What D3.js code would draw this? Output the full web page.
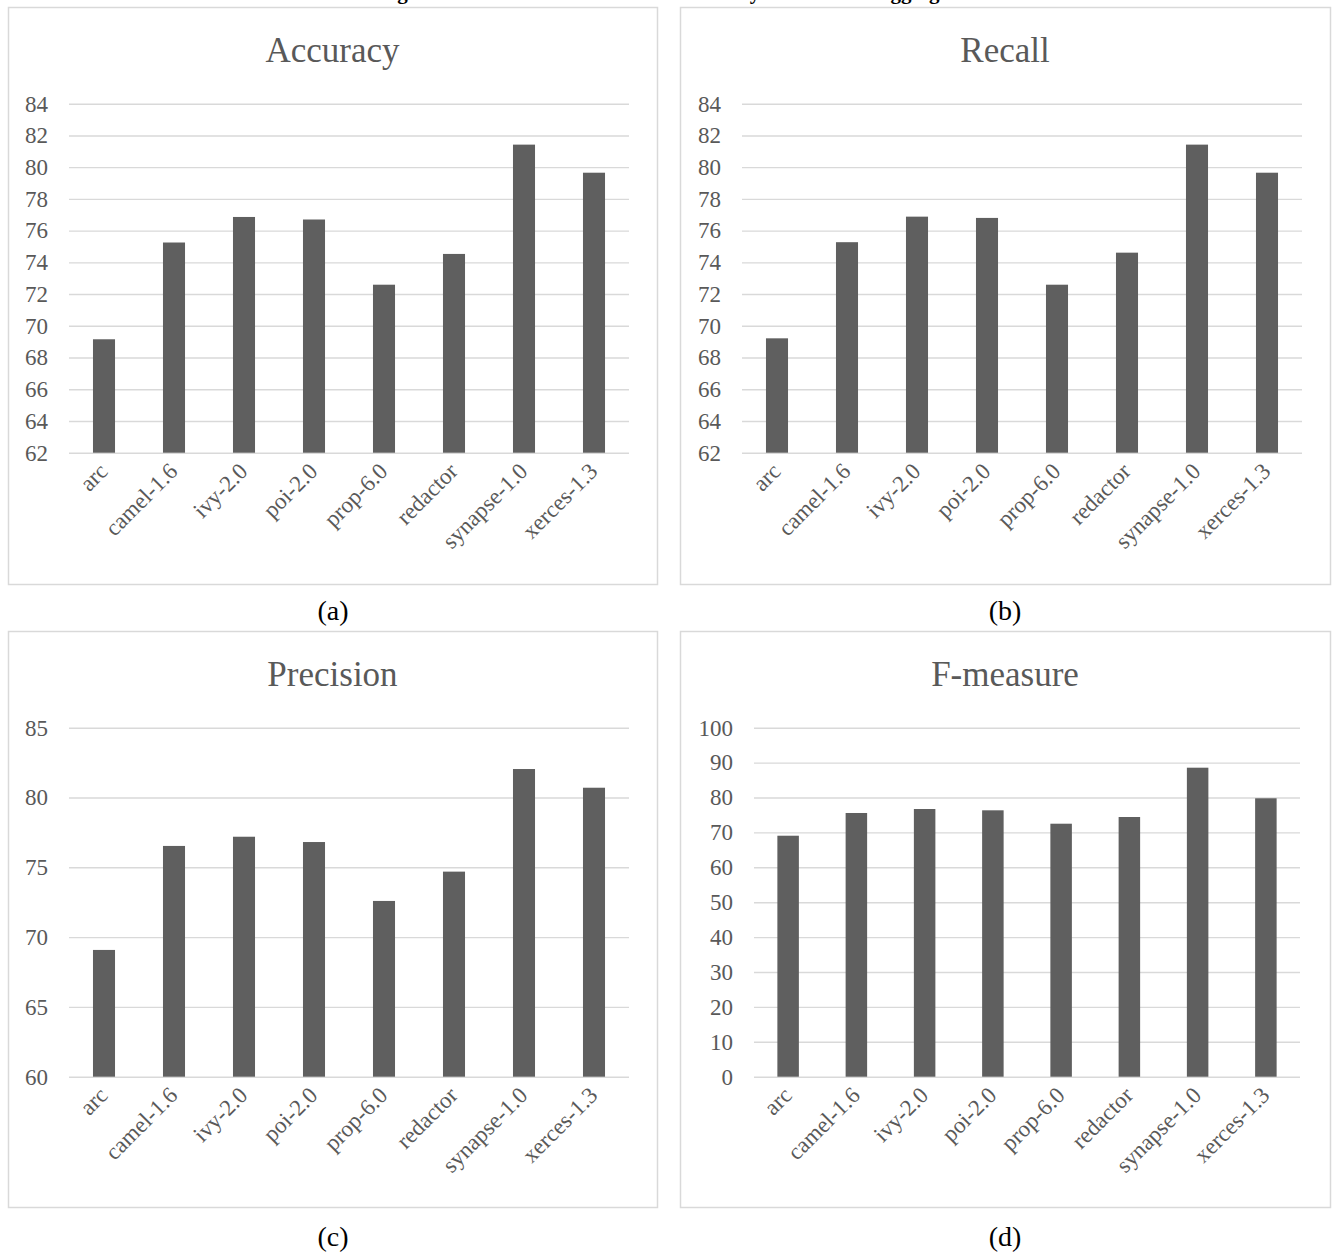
<!DOCTYPE html>
<html>
<head>
<meta charset="utf-8">
<script src="https://cdn.jsdelivr.net/npm/d3@7"></script>
<style>
  html, body { margin: 0; padding: 0; background: #ffffff; }
  svg { display: block; }
</style>
</head>
<body>
<svg id="chart" width="1333" height="1252"></svg>
<script>
const categories = ["arc", "camel-1.6", "ivy-2.0", "poi-2.0", "prop-6.0", "redactor", "synapse-1.0", "xerces-1.3"];
const accuracyValues  = [69.15, 75.25, 76.86, 76.70, 72.59, 74.53, 81.42, 79.65];
const recallValues    = [69.21, 75.27, 76.88, 76.80, 72.59, 74.61, 81.42, 79.65];
const precisionValues = [69.08, 76.53, 77.19, 76.81, 72.59, 74.69, 82.04, 80.70];
const fmeasureValues  = [69.05, 75.56, 76.70, 76.33, 72.49, 74.41, 88.54, 79.77];
const accuracyTicks  = [62, 64, 66, 68, 70, 72, 74, 76, 78, 80, 82, 84];
const recallTicks    = [62, 64, 66, 68, 70, 72, 74, 76, 78, 80, 82, 84];
const precisionTicks = [60, 65, 70, 75, 80, 85];
const fmeasureTicks  = [0, 10, 20, 30, 40, 50, 60, 70, 80, 90, 100];
const panelTitles = ["Accuracy", "Recall", "Precision", "F-measure"];
const panelCaptions = ["(a)", "(b)", "(c)", "(d)"];

const svg = d3.select("#chart");
const serif = "'Liberation Serif', 'Times New Roman', serif";
const textGray = "#595959";
const gridGray = "#d9d9d9";
const barFill = "#5f5f5f";

// Figure title above the panels, cut off by the top edge (only descenders visible)
const topTitle = svg.append("text")
  .attr("y", -1)
  .attr("font-family", serif)
  .attr("font-weight", "bold")
  .attr("font-size", 21)
  .attr("fill", "#000");
topTitle.append("tspan").attr("x", 344).text("Average results of the evaluation metrics");
topTitle.append("tspan").attr("x", 738).text("by the");
topTitle.append("tspan").attr("x", 866).text("Bagging");

const panels = [
  { title: panelTitles[0], caption: panelCaptions[0], values: accuracyValues, ticks: accuracyTicks,
    box: [8, 7, 657, 584], plot: [69, 629, 103.7, 452.7], titleY: 62, capX: 333, capY: 620 },
  { title: panelTitles[1], caption: panelCaptions[1], values: recallValues, ticks: recallTicks,
    box: [680, 7, 1330, 584], plot: [742, 1302, 103.7, 452.7], titleY: 62, capX: 1005, capY: 620 },
  { title: panelTitles[2], caption: panelCaptions[2], values: precisionValues, ticks: precisionTicks,
    box: [8, 631, 657, 1207], plot: [69, 629, 727.7, 1076.7], titleY: 686, capX: 333, capY: 1246 },
  { title: panelTitles[3], caption: panelCaptions[3], values: fmeasureValues, ticks: fmeasureTicks,
    box: [680, 631, 1330, 1207], plot: [754, 1300, 727.7, 1076.7], titleY: 686, capX: 1005, capY: 1246 }
];

panels.forEach(p => {
  const g = svg.append("g");
  const [bx0, by0, bx1, by1] = p.box;
  const [px0, px1, pyTop, pyBot] = p.plot;

  g.append("rect")
    .attr("x", bx0 + 0.5).attr("y", by0 + 0.5)
    .attr("width", bx1 - bx0).attr("height", by1 - by0)
    .attr("fill", "#fff").attr("stroke", gridGray).attr("stroke-width", 1.5);

  g.append("text")
    .attr("x", (bx0 + bx1) / 2).attr("y", p.titleY)
    .attr("text-anchor", "middle")
    .attr("font-family", serif).attr("font-size", 35)
    .attr("fill", textGray)
    .text(p.title);

  const y = d3.scaleLinear()
    .domain([p.ticks[0], p.ticks[p.ticks.length - 1]])
    .range([pyBot, pyTop]);
  const x = d3.scaleBand()
    .domain(categories)
    .range([px0, px1])
    .paddingInner(0.685)
    .paddingOuter(0.3425);

  // gridlines
  const yGrid = d3.axisLeft(y).tickValues(p.ticks).tickSize(-(px1 - px0)).tickFormat("");
  const gg = g.append("g").attr("transform", `translate(${px0},0)`).call(yGrid);
  gg.select(".domain").remove();
  gg.selectAll(".tick line").attr("stroke", gridGray).attr("stroke-width", 1.4);

  // y labels
  const yAxis = d3.axisLeft(y).tickValues(p.ticks).tickSize(0).tickPadding(21).tickFormat(d3.format("d"));
  const ya = g.append("g").attr("transform", `translate(${px0},0)`).call(yAxis);
  ya.select(".domain").remove();
  ya.selectAll(".tick text")
    .attr("font-family", serif).attr("font-size", 23)
    .attr("fill", textGray);

  // bars
  g.append("g").selectAll("rect")
    .data(p.values)
    .join("rect")
    .attr("x", (d, i) => x(categories[i]))
    .attr("width", x.bandwidth())
    .attr("y", d => y(d))
    .attr("height", d => y(p.ticks[0]) - y(d))
    .attr("fill", barFill);

  // x labels
  const xAxis = d3.axisBottom(x).tickSize(0).tickPadding(0);
  const xa = g.append("g").attr("transform", `translate(0,${pyBot})`).call(xAxis);
  xa.select(".domain").remove();
  xa.selectAll(".tick text")
    .attr("font-family", serif).attr("font-size", 23)
    .attr("fill", textGray)
    .attr("text-anchor", "end")
    .attr("dx", 0).attr("dy", 0)
    .attr("transform", "translate(5,20) rotate(-45)");

  g.append("text")
    .attr("x", p.capX).attr("y", p.capY)
    .attr("text-anchor", "middle")
    .attr("font-family", serif).attr("font-size", 28)
    .attr("fill", "#000")
    .text(p.caption);
});
</script>
</body>
</html>
